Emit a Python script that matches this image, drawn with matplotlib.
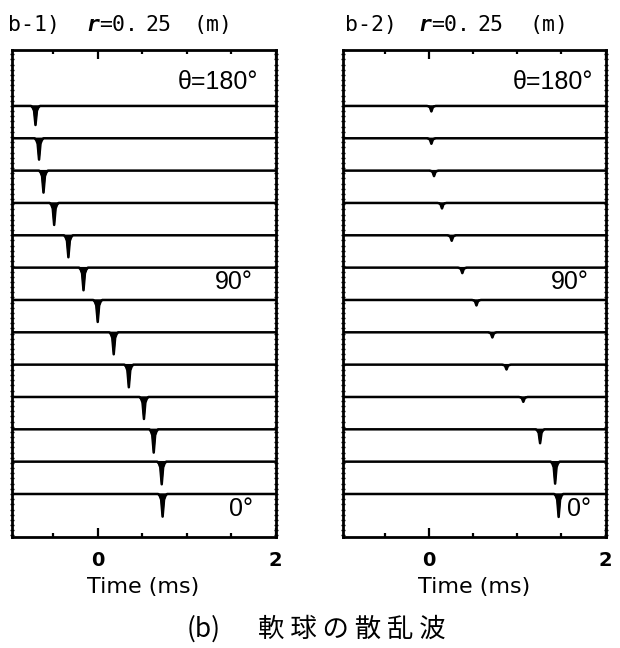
import numpy as np
import matplotlib.pyplot as plt
from matplotlib.ticker import FixedLocator, MultipleLocator

# scattering angle of each trace, top to bottom
angles = [180, 165, 150, 135, 120, 105, 90, 75, 60, 45, 30, 15, 0]

# b-1) arrival time (ms) and depth of the spike (in trace spacings)
t_b1 = [-0.70, -0.66, -0.61, -0.49, -0.33, -0.16, 0.00, 0.18, 0.35, 0.52, 0.63, 0.72, 0.73]
amp_b1 = [0.59, 0.66, 0.68, 0.68, 0.68, 0.70, 0.68, 0.68, 0.70, 0.68, 0.72, 0.70, 0.70]

# b-2)
t_b2 = [0.03, 0.03, 0.06, 0.15, 0.26, 0.38, 0.54, 0.72, 0.88, 1.07, 1.26, 1.43, 1.47]
amp_b2 = [0.17, 0.17, 0.17, 0.17, 0.17, 0.17, 0.17, 0.16, 0.15, 0.15, 0.43, 0.68, 0.71]

labelled = {180: "θ=180°", 90: "90°", 0: "0°"}
xmajor = [0, 2]
xminor = [-0.5, 0.5, 1.0, 1.5]

W, H = 620, 648
fig = plt.figure(figsize=(W / 100, H / 100), dpi=100)


def px_axes(x0, y0, x1, y1):
    return fig.add_axes([x0 / W, 1 - y1 / H, (x1 - x0) / W, (y1 - y0) / H])


# shape of one spike (time offset in ms, relative depth)
pulse_dt = np.array([-0.05, -0.032, -0.016, 0.0, 0.016, 0.032, 0.05])
pulse_shape = np.array([0, -0.08, -0.25, -1.0, -0.25, -0.08, 0])

XLIM = (-0.97, 2.0)
YLIM = (-13.33, 1.73)


def draw_panel(ax, times, amps, label_pos):
    for i, (ang, t, a) in enumerate(zip(angles, times, amps)):
        base = -i
        xs = np.concatenate([[XLIM[0]], t + pulse_dt, [XLIM[1]]])
        ys = np.concatenate([[base], base + a * pulse_shape, [base]])
        ax.plot(xs, ys, color="black", lw=1.8)
        ax.fill(t + pulse_dt, base + a * pulse_shape, color="black", lw=1)
        if ang in labelled:
            lx, dy = label_pos[ang]
            ax.text(lx, base + dy, labelled[ang], ha="right", va="center",
                    fontsize=18, family="Liberation Sans")
    ax.set_xlim(*XLIM)
    ax.set_ylim(*YLIM)
    ax.xaxis.set_major_locator(FixedLocator(xmajor))
    ax.xaxis.set_minor_locator(FixedLocator(xminor))
    ax.set_xticklabels(["0", "2"], fontweight="bold")
    ax.tick_params(axis="x", which="both", direction="in", top=True, bottom=True,
                   width=1.6, labelsize=14, pad=10)
    ax.tick_params(axis="x", which="major", length=6.5)
    ax.tick_params(axis="x", which="minor", length=3)
    ax.set_yticks([])
    ax.yaxis.set_minor_locator(MultipleLocator(0.16))
    ax.tick_params(axis="y", which="minor", direction="inout", left=True, right=True,
                   length=2.5, width=1)
    for s in ax.spines.values():
        s.set_linewidth(2)
    ax.set_xlabel("Time (ms)", fontsize=16, labelpad=5)


ax1 = px_axes(11.5, 50, 275.5, 537)
draw_panel(ax1, t_b1, amp_b1, {180: (1.81, 0.74), 90: (1.74, 0.56), 0: (1.75, -0.46)})

ax2 = px_axes(343, 50, 605.5, 537)
draw_panel(ax2, t_b2, amp_b2, {180: (1.86, 0.74), 90: (1.81, 0.56), 0: (1.84, -0.46)})

# panel titles
mono = "DejaVu Sans Mono"
ty = 1 - 25 / H
for dx, tag in [(0, "b-1)"), (337, "b-2)")]:
    sh = 5 if dx else 0
    fig.text((8 + dx) / W, ty, tag, fontsize=15.5, family=mono, va="center")
    fig.text((86 + dx - sh) / W, ty, "r", fontsize=15.5, family=mono,
             style="italic", weight="bold", va="center")
    fig.text((99 + dx - sh) / W, ty, "=0.", fontsize=15.5, family=mono, va="center")
    fig.text((145 + dx - sh) / W, ty, "25", fontsize=15.5, family=mono, va="center")
    fig.text((194 + dx - (2 if dx else 0)) / W, ty, "(m)", fontsize=15.5, family=mono, va="center")

# caption
cjk = ["Noto Sans CJK JP", "DejaVu Sans"]
fig.text(187 / W, 1 - 629 / H, "(b)", fontsize=19, family=cjk, va="center")
fig.text(258 / W, 1 - 629 / H, "軟 球 の 散 乱 波", fontsize=19, family=cjk, va="center")

fig.savefig("out.png", dpi=100)
